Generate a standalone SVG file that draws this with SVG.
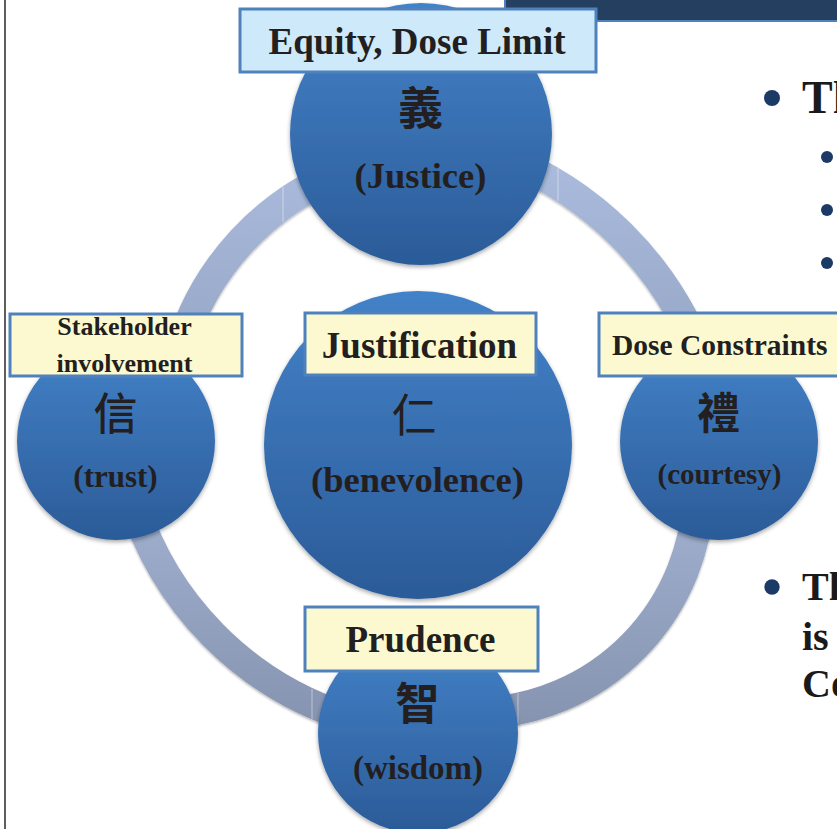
<svg xmlns="http://www.w3.org/2000/svg" width="837" height="829" viewBox="0 0 837 829">
<style>
.lbl{stroke:#4f81bd;stroke-width:3}
.yel{fill:#fcf9d0}
.blu{fill:#cde9fa}
.en{font-family:"Liberation Serif","Times New Roman",serif;font-weight:bold;fill:#231f20;text-anchor:middle}
.cjk{font-family:"Noto Sans CJK TC","Noto Sans CJK SC",sans-serif;fill:#231f20;text-anchor:middle}
.circ{fill:url(#cg);filter:url(#sh)}
.arc{fill:none;filter:url(#sh2)}
.seam{stroke:#ffffff;stroke-opacity:0.45;stroke-width:1}
.side{font-family:"Liberation Serif","Times New Roman",serif;font-weight:bold;fill:#1a1a1a}
.bul{fill:#1c3a66}
</style>
<defs>
<linearGradient id="cg" x1="0" y1="0" x2="0" y2="1">
<stop offset="0" stop-color="#4382c8"/>
<stop offset="1" stop-color="#2b5b98"/>
</linearGradient>
<linearGradient id="gTop" gradientUnits="userSpaceOnUse" x1="0" y1="150" x2="0" y2="360">
<stop offset="0" stop-color="#abbcde"/>
<stop offset="1" stop-color="#95a6c6"/>
</linearGradient>
<linearGradient id="gBot" gradientUnits="userSpaceOnUse" x1="0" y1="500" x2="0" y2="730">
<stop offset="0" stop-color="#a0b0cf"/>
<stop offset="1" stop-color="#8593af"/>
</linearGradient>
<filter id="sh" x="-10%" y="-10%" width="120%" height="125%">
<feDropShadow dx="0" dy="2" stdDeviation="2" flood-color="#000" flood-opacity="0.35"/>
</filter>
<filter id="sh2" x="-10%" y="-10%" width="120%" height="125%">
<feDropShadow dx="0" dy="1.5" stdDeviation="1.2" flood-color="#000" flood-opacity="0.3"/>
</filter>
</defs>
<rect x="0" y="0" width="837" height="829" fill="#ffffff"/>
<line x1="5" y1="0" x2="5" y2="829" stroke="#5e5e5e" stroke-width="2"/>
<rect x="505" y="-5" width="340" height="26" fill="#243f60" stroke="#4f81bd" stroke-width="2"/>

<g id="side-text">
<circle class="bul" cx="772" cy="98" r="8"/>
<text class="side" x="802" y="113" font-size="46">Th</text>
<circle class="bul" cx="827" cy="157" r="6"/>
<circle class="bul" cx="827" cy="210" r="6"/>
<circle class="bul" cx="827" cy="263" r="6"/>
<circle class="bul" cx="772" cy="587" r="7.7"/>
<text class="side" x="802" y="600" font-size="40">Th</text>
<text class="side" x="802" y="650" font-size="40">is</text>
<text class="side" x="802" y="697" font-size="40">Co</text>
</g>

<g id="connectors">
<path class="arc" d="M179.8 350 A275.5 275.5 0 0 1 345 170.9" stroke="url(#gTop)" stroke-width="30"/>
<path class="arc" d="M500 156.2 A349 349 0 0 1 700.1 355" stroke="url(#gTop)" stroke-width="29.6"/>
<path class="arc" d="M131.1 495 A330 330 0 0 0 350 718.1" stroke="url(#gBot)" stroke-width="29"/>
<path class="arc" d="M698.6 490 A226 226 0 0 1 480 713.3" stroke="url(#gBot)" stroke-width="32"/>
<line class="seam" x1="283" y1="187" x2="283" y2="222"/>
<line class="seam" x1="558" y1="168" x2="558" y2="201"/>
<line class="seam" x1="312" y1="689" x2="312" y2="719"/>
<line class="seam" x1="518" y1="693" x2="518" y2="724"/>
</g>

<g id="node-justice">
<circle class="circ" cx="421" cy="134" r="131"/>
<text class="cjk" x="420.5" y="125" font-size="45" font-weight="700">義</text>
<text class="en" x="420.5" y="188" font-size="36.5">(Justice)</text>
</g>

<g id="node-trust">
<circle class="circ" cx="116" cy="441" r="99"/>
<text class="cjk" x="115.5" y="430" font-size="44" font-weight="500">信</text>
<text class="en" x="115.5" y="487" font-size="31">(trust)</text>
</g>

<g id="node-courtesy">
<circle class="circ" cx="719" cy="441" r="99"/>
<text class="cjk" x="718.5" y="429" font-size="43" font-weight="700">禮</text>
<text class="en" x="719.5" y="484" font-size="29">(courtesy)</text>
</g>

<g id="node-wisdom">
<circle class="circ" cx="418" cy="733" r="100"/>
<text class="cjk" x="417.5" y="720" font-size="44" font-weight="700">智</text>
<text class="en" x="418" y="779" font-size="33">(wisdom)</text>
</g>

<g id="node-benevolence">
<circle class="circ" cx="418" cy="445" r="154"/>
<text class="cjk" x="414" y="432" font-size="45" font-weight="400">仁</text>
<text class="en" x="417.5" y="492" font-size="36.5">(benevolence)</text>
</g>

<g id="label-equity">
<rect class="lbl blu" x="240" y="9" width="356" height="63"/>
<text class="en" x="417" y="54" font-size="37">Equity, Dose Limit</text>
</g>

<g id="label-stakeholder">
<rect class="lbl yel" x="10" y="314" width="232" height="62"/>
<text class="en" x="124.5" y="335" font-size="26">Stakeholder</text>
<text class="en" x="124.5" y="372" font-size="26">involvement</text>
</g>

<g id="label-justification">
<rect class="lbl yel" x="305" y="313" width="231" height="62"/>
<text class="en" x="419.5" y="358" font-size="37">Justification</text>
</g>

<g id="label-dose-constraints">
<rect class="lbl yel" x="599" y="313" width="250" height="63"/>
<text class="en" x="612" y="355" font-size="29.5" style="text-anchor:start">Dose Constraints</text>
</g>

<g id="label-prudence">
<rect class="lbl yel" x="305" y="607" width="233" height="64"/>
<text class="en" x="420.5" y="652" font-size="37">Prudence</text>
</g>
</svg>
